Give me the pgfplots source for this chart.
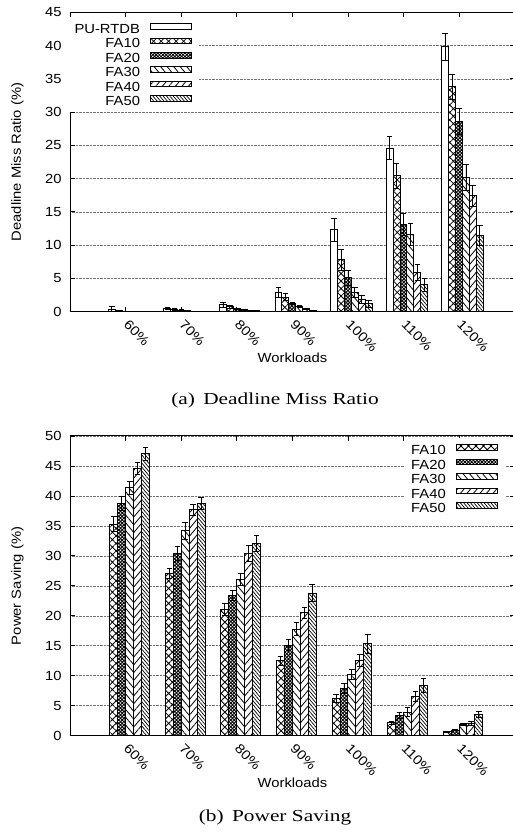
\documentclass[border=0pt]{standalone}
\usepackage{fontspec}
\setmainfont{Liberation Serif}
\newfontfamily\hel[FakeStretch=1.12]{Liberation Sans}
\newfontfamily\capfont[FakeStretch=1.27]{Liberation Serif}
\usepackage{graphicx}
\usepackage{pgfplots}
\pgfplotsset{compat=1.18}
\usepackage{pgfplotstable}
\usetikzlibrary{patterns.meta}

\pgfplotstableread{
x y e
0 0.36 0.40
1 0.55 0.15
2 1.05 0.40
3 2.90 0.70
4 12.3 1.70
5 24.6 1.70
6 39.8 2.00
}\tPU
\pgfplotstableread{
x y e
0 0.15 0.10
1 0.40 0.15
2 0.75 0.20
3 2.17 0.50
4 7.80 1.60
5 20.4 1.90
6 33.8 1.90
}\tAa
\pgfplotstableread{
x y e
0 0.05 0.05
1 0.25 0.10
2 0.45 0.10
3 1.26 0.20
4 5.10 1.10
5 13.1 1.60
6 28.6 1.90
}\tAb
\pgfplotstableread{
x y e
0 0.05 0.03
1 0.10 0.05
2 0.30 0.08
3 0.80 0.15
4 2.90 0.80
5 11.6 1.70
6 20.2 2.00
}\tAc
\pgfplotstableread{
x y e
0 0.03 0.02
1 0.05 0.03
2 0.20 0.05
3 0.45 0.10
4 1.90 0.60
5 5.90 1.20
6 17.4 1.60
}\tAd
\pgfplotstableread{
x y e
0 0.02 0.02
1 0.03 0.02
2 0.10 0.03
3 0.20 0.05
4 1.20 0.50
5 4.06 1.00
6 11.4 1.50
}\tAe

\pgfplotstableread{
x y e
0 35.3 1.20
1 27.1 0.80
2 21.1 1.00
3 12.5 0.70
4 6.20 0.70
5 2.20 0.25
6 0.67 0.10
}\tBa
\pgfplotstableread{
x y e
0 38.7 1.20
1 30.4 1.20
2 23.4 0.80
3 15.1 0.90
4 7.85 0.85
5 3.40 0.45
6 0.90 0.10
}\tBb
\pgfplotstableread{
x y e
0 41.4 1.10
1 34.2 1.40
2 26.0 1.00
3 17.8 1.10
4 10.25 0.85
5 3.95 0.75
6 1.90 0.20
}\tBc
\pgfplotstableread{
x y e
0 44.6 1.00
1 37.7 0.90
2 30.4 1.30
3 20.5 0.90
4 12.5 1.00
5 6.50 0.85
6 2.07 0.38
}\tBd
\pgfplotstableread{
x y e
0 47.0 1.10
1 38.7 1.00
2 32.1 1.30
3 23.8 1.40
4 15.3 1.60
5 8.40 1.20
6 3.57 0.50
}\tBe

\tikzset{
  pPU/.style={draw=black, fill=white},
  pFAa/.style={draw=black, fill=white, postaction={pattern={Hatch[angle=45,distance=5.3pt,line width=0.8pt]}}},
  pFAb/.style={draw=black, fill=white, postaction={pattern={Hatch[angle=45,distance=2.4pt,line width=0.9pt]}}},
  pFAc/.style={draw=black, fill=white, postaction={pattern={Lines[angle=-50,distance=5pt,line width=0.8pt]}}},
  pFAd/.style={draw=black, fill=white, postaction={pattern={Lines[angle=50,distance=5pt,line width=0.8pt]}}},
  pFAe/.style={draw=black, fill=white, postaction={pattern={Lines[angle=-50,distance=2.6pt,line width=0.7pt]}}},
}

\newcommand{\rl}[1]{\rotatebox{-45}{#1}}

\pgfplotsset{
  myaxis/.style={
    scale only axis, width=444.4pt, height=299.4pt,
    xmin=-1, xmax=7, xtick={0,...,6},
    xticklabels={\rl{60\%},\rl{70\%},\rl{80\%},\rl{90\%},\rl{100\%},\rl{110\%},\rl{120\%}},
    ymin=0,
    tick align=inside, major tick length=5pt,
    every tick/.style={black, line width=0.8pt},
    axis line style={line width=1pt},
    ymajorgrids, grid style={densely dotted, black!55, line width=0.6pt},
    /pgf/number format/assume math mode=true,
    tick label style={font=\hel\fontsize{13.2}{15}\selectfont},
    label style={font=\hel\fontsize{13.2}{15}\selectfont},
    xticklabel style={anchor=north west, inner sep=0pt, yshift=-7.5pt, xshift=-3pt},
    yticklabel style={inner sep=0pt, xshift=-8.5pt},
    ylabel style={at={(axis description cs:-0.1186,0.5)}, anchor=center},
    legend cell align=right, legend plot pos=right,
    legend image code/.code={\draw[#1, line width=0.9pt] (0pt,-0.35pt) rectangle (41pt,5.15pt);},
    legend style={draw=none, fill=white, inner xsep=7pt, inner ysep=6pt,
      font=\hel\fontsize{13.2}{15}\selectfont, row sep=4.1pt, column sep=10pt,
      nodes={inner sep=0pt, text height=9.5pt, text depth=0pt}},
    error bars/y dir=both, error bars/y explicit,
    error bars/error bar style={line width=0.9pt, black},
    error bars/error mark options={rotate=90, mark size=2.8pt, line width=0.9pt, black},
  },
  mybar/.style={ybar, line width=1pt, bar shift=0pt},
}

\begin{document}
\begin{tikzpicture}
\path[use as bounding box] (0pt,0pt) rectangle (512pt,832pt);

\begin{axis}[myaxis, at={(70.2pt,520.3pt)}, anchor=south west,
  ymax=45, ytick={0,5,...,45},
  ylabel={Deadline Miss Ratio (\%)}, xlabel={Workloads},
  xlabel style={at={(axis description cs:0.5002,-0.1546)}, anchor=center},
  legend style={at={(axis description cs:0.29,0.9845)}, anchor=north east}]
\addplot[mybar, bar width=0.125, pPU] table[x expr=\thisrow{x}-0.25,y=y,y error=e]{\tPU};
\addplot[mybar, bar width=0.125, pFAa] table[x expr=\thisrow{x}-0.125,y=y,y error=e]{\tAa};
\addplot[mybar, bar width=0.125, pFAb] table[x expr=\thisrow{x},y=y,y error=e]{\tAb};
\addplot[mybar, bar width=0.125, pFAc] table[x expr=\thisrow{x}+0.125,y=y,y error=e]{\tAc};
\addplot[mybar, bar width=0.125, pFAd] table[x expr=\thisrow{x}+0.25,y=y,y error=e]{\tAd};
\addplot[mybar, bar width=0.125, pFAe] table[x expr=\thisrow{x}+0.375,y=y,y error=e]{\tAe};
\legend{PU-RTDB,FA10,FA20,FA30,FA40,FA50}
\end{axis}

\node[anchor=base, font=\capfont\fontsize{16.8}{19}\selectfont] at (275pt,427.7pt) {(a)\enspace Deadline Miss Ratio};

\begin{axis}[myaxis, at={(70.2pt,96.3pt)}, anchor=south west, height=299.7pt,
  ymax=50, ytick={0,5,...,50},
  ylabel={Power Saving (\%)}, xlabel={Workloads},
  xlabel style={at={(axis description cs:0.5002,-0.157)}, anchor=center},
  legend style={at={(axis description cs:0.978,0.9925)}, anchor=north east}]
\addplot[mybar, bar width=0.142857, pFAa] table[x expr=\thisrow{x}-0.2143,y=y,y error=e]{\tBa};
\addplot[mybar, bar width=0.142857, pFAb] table[x expr=\thisrow{x}-0.0714,y=y,y error=e]{\tBb};
\addplot[mybar, bar width=0.142857, pFAc] table[x expr=\thisrow{x}+0.0714,y=y,y error=e]{\tBc};
\addplot[mybar, bar width=0.142857, pFAd] table[x expr=\thisrow{x}+0.2143,y=y,y error=e]{\tBd};
\addplot[mybar, bar width=0.142857, pFAe] table[x expr=\thisrow{x}+0.3571,y=y,y error=e]{\tBe};
\legend{FA10,FA20,FA30,FA40,FA50}
\end{axis}

\node[anchor=base, font=\capfont\fontsize{16.8}{19}\selectfont] at (275pt,10.3pt) {(b)\enspace Power Saving};
\end{tikzpicture}
\end{document}
